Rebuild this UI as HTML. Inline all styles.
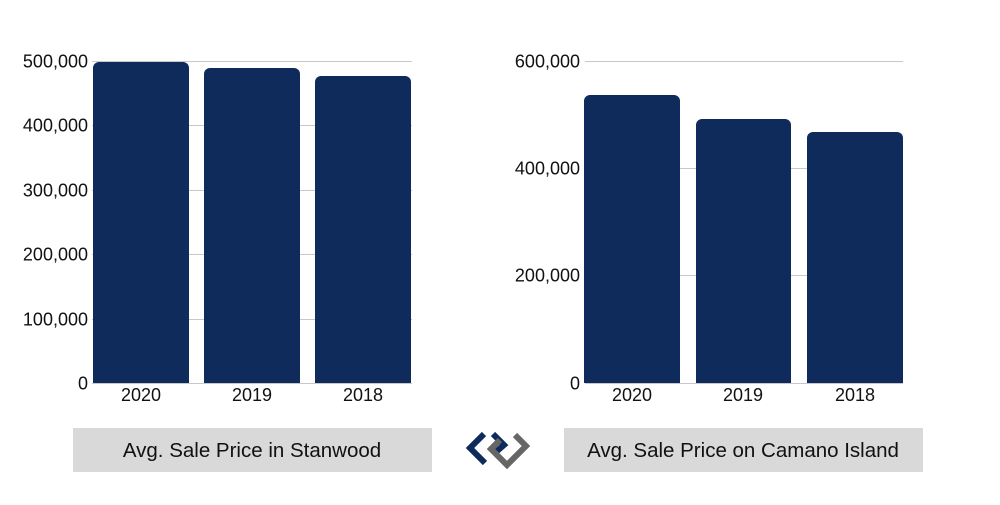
<!DOCTYPE html>
<html><head><style>
body{margin:0;width:1000px;height:500px;background:#fff;overflow:hidden}
svg text{font-family:"Liberation Sans",sans-serif;fill:#111}
</style></head><body>
<svg width="1000" height="500" viewBox="0 0 1000 500">
<g stroke="#c8c8c8" stroke-width="1">
<line x1="92" x2="412" y1="61.5" y2="61.5"/><line x1="92" x2="412" y1="125.5" y2="125.5"/><line x1="92" x2="412" y1="190.5" y2="190.5"/><line x1="92" x2="412" y1="254.5" y2="254.5"/><line x1="92" x2="412" y1="319.5" y2="319.5"/>
<line x1="585" x2="903" y1="61.5" y2="61.5"/><line x1="585" x2="903" y1="168.5" y2="168.5"/><line x1="585" x2="903" y1="275.5" y2="275.5"/>
</g>
<g fill="#0f2b5b">
<path d="M93 383V68a6 6 0 0 1 6-6h84a6 6 0 0 1 6 6V383z"/>
<path d="M204 383V74a6 6 0 0 1 6-6h84a6 6 0 0 1 6 6V383z"/>
<path d="M315 383V82a6 6 0 0 1 6-6h84a6 6 0 0 1 6 6V383z"/>
<path d="M584 383V101a6 6 0 0 1 6-6h84a6 6 0 0 1 6 6V383z"/>
<path d="M696 383V125a6 6 0 0 1 6-6h83a6 6 0 0 1 6 6V383z"/>
<path d="M807 383V138a6 6 0 0 1 6-6h84a6 6 0 0 1 6 6V383z"/>
</g>
<line x1="92" x2="412" y1="383.5" y2="383.5" stroke="#c8c8c8"/>
<line x1="585" x2="903" y1="383.5" y2="383.5" stroke="#c8c8c8"/>
<g font-size="18" text-anchor="end">
<text x="88" y="67.5">500,000</text><text x="88" y="131.5">400,000</text><text x="88" y="196.5">300,000</text><text x="88" y="260.5">200,000</text><text x="88" y="325.5">100,000</text><text x="88" y="389.5">0</text>
<text x="580" y="67.5">600,000</text><text x="580" y="174.5">400,000</text><text x="580" y="281.5">200,000</text><text x="580" y="389.5">0</text>
</g>
<g font-size="18" text-anchor="middle">
<text x="141" y="401">2020</text><text x="252" y="401">2019</text><text x="363" y="401">2018</text>
<text x="632" y="401">2020</text><text x="743" y="401">2019</text><text x="855" y="401">2018</text>
</g>
<rect x="73" y="428" width="359" height="44" fill="#d9d9d9"/>
<rect x="564" y="428" width="359" height="44" fill="#d9d9d9"/>
<g font-size="20.5" text-anchor="middle">
<text x="252" y="457">Avg. Sale Price in Stanwood</text>
<text x="743" y="457">Avg. Sale Price on Camano Island</text>
</g>
<g fill="none" stroke-width="6" stroke-linejoin="miter">
<polyline points="484,434 470,448 485,463" stroke="#0f2b5b"/>
<polyline points="493,434 504,445 496,452" stroke="#0f2b5b"/>
<polyline points="500,440 491,449 507,465 526,446 515,435" stroke="#666"/>
</g>
</svg>
</body></html>
